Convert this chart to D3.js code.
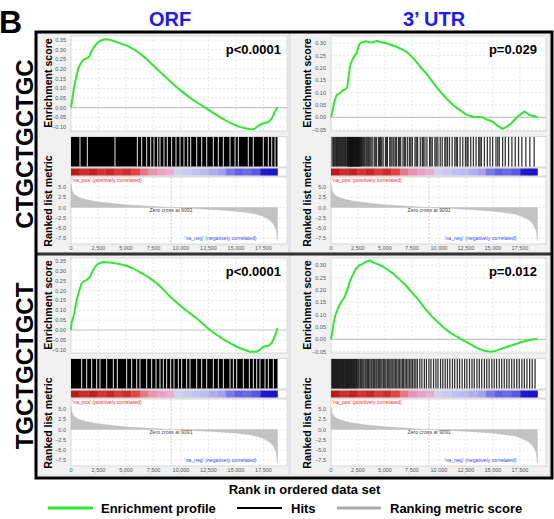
<!DOCTYPE html>
<html><head><meta charset="utf-8">
<script src="https://cdn.jsdelivr.net/npm/d3@7"></script>
<style>body{margin:0;background:#fff}svg{display:block}</style>
</head><body>
<script>
// ---------------- DATA ----------------
const columnTitles = ["ORF", "3\u2019 UTR"];
const rowLabels = ["CTGCTGCTGC", "TGCTGCTGCT"];
const pValues = [["p<0.0001", "p=0.029"], ["p<0.0001", "p=0.012"]];
const listSize = [18770, 19130];
const zeroCross = [9091, 9091];
const rankTicks = [0, 2500, 5000, 7500, 10000, 12500, 15000, 17500];
const esTicksOrf = [-0.10, -0.05, 0.00, 0.05, 0.10, 0.15, 0.20, 0.25, 0.30, 0.35];
const esTicksUtr = [-0.05, 0.00, 0.05, 0.10, 0.15, 0.20, 0.25, 0.30];
const metricTicks = [5.0, 2.5, 0.0, -2.5, -5.0, -7.5];
const legendItems = ["Enrichment profile", "Hits", "Ranking metric score"];
const axisTitle = "Rank in ordered data set";
const posLabel = "'na_pos' (positively correlated)";
const negLabel = "'na_neg' (negatively correlated)";

// enrichment profiles [rank, ES]
const esOrfTop = [[0,0.0],[80,0.03],[160,0.06],[260,0.10],[400,0.14],[520,0.17],[650,0.20],[800,0.22],[1000,0.24],[1200,0.25],[1400,0.255],[1550,0.258],[1700,0.27],[1850,0.29],[2000,0.305],[2200,0.322],[2400,0.335],[2650,0.345],[2900,0.351],[3150,0.354],[3400,0.352],[3700,0.348],[4000,0.342],[4400,0.334],[4800,0.326],[5300,0.315],[5800,0.299],[6200,0.283],[6800,0.255],[7400,0.222],[8000,0.19],[8700,0.153],[9300,0.121],[9900,0.092],[10500,0.065],[11100,0.04],[11700,0.018],[12300,-0.003],[12900,-0.025],[13500,-0.047],[14100,-0.067],[14750,-0.086],[15300,-0.099],[15950,-0.108],[16400,-0.112],[16700,-0.109],[16900,-0.100],[17150,-0.088],[17450,-0.082],[17700,-0.078],[18000,-0.072],[18250,-0.055],[18500,-0.025],[18770,0.002]];
const esUtrTop = [[0,0.0],[110,0.02],[212,0.043],[360,0.07],[526,0.09],[700,0.095],[830,0.097],[980,0.105],[1135,0.11],[1300,0.113],[1504,0.121],[1620,0.16],[1753,0.205],[1900,0.225],[2057,0.24],[2200,0.25],[2371,0.26],[2500,0.28],[2675,0.30],[2950,0.305],[3293,0.308],[3600,0.303],[3902,0.304],[4216,0.31],[4600,0.305],[5138,0.30],[5600,0.293],[6061,0.286],[6500,0.277],[6983,0.266],[7450,0.247],[7906,0.225],[8350,0.2],[8828,0.178],[9300,0.15],[9751,0.124],[10200,0.1],[10673,0.077],[11300,0.05],[11900,0.03],[12500,0.012],[13127,0.002],[13600,0.001],[14050,0.0],[14500,-0.01],[14972,-0.018],[15450,-0.035],[15895,-0.047],[16200,-0.04],[16513,-0.031],[16800,-0.02],[17130,-0.004],[17500,0.01],[17896,0.023],[18150,0.018],[18357,0.009],[18650,0.006],[18975,0.003],[19130,0.0]];
const esOrfBottom = [[0,0.0],[60,0.04],[230,0.068],[380,0.11],[520,0.152],[750,0.2],[970,0.237],[1200,0.248],[1420,0.254],[1730,0.27],[1950,0.298],[2180,0.32],[2400,0.333],[2640,0.34],[2940,0.345],[3400,0.343],[3850,0.34],[4300,0.336],[4760,0.33],[5200,0.322],[5670,0.312],[6100,0.298],[6570,0.284],[7200,0.262],[7790,0.237],[8400,0.205],[9000,0.169],[9600,0.14],[10210,0.11],[10800,0.085],[11430,0.059],[12000,0.03],[12630,0.0],[13240,-0.024],[13840,-0.047],[14450,-0.067],[15060,-0.085],[15650,-0.099],[16270,-0.11],[16880,-0.11],[17200,-0.098],[17480,-0.085],[17700,-0.082],[17940,-0.08],[18200,-0.068],[18390,-0.05],[18600,-0.02],[18770,0.01]];
const esUtrBottom = [[0,0.0],[120,0.03],[250,0.07],[420,0.1],[600,0.12],[800,0.14],[1000,0.155],[1250,0.17],[1500,0.2],[1750,0.235],[2000,0.26],[2300,0.285],[2600,0.3],[2900,0.305],[3250,0.315],[3600,0.32],[3900,0.312],[4300,0.305],[4800,0.295],[5300,0.28],[5800,0.265],[6300,0.245],[6900,0.22],[7500,0.19],[8100,0.16],[8700,0.125],[9300,0.095],[9900,0.07],[10500,0.045],[11100,0.025],[11700,0.01],[12300,-0.005],[12900,-0.02],[13500,-0.035],[14100,-0.045],[14700,-0.05],[15200,-0.048],[15700,-0.04],[16200,-0.032],[16700,-0.025],[17200,-0.018],[17700,-0.01],[18200,-0.005],[18700,0.0],[19130,0.0]];

// ranked list metric [rank, value]
const metricOrf = [[0,5.6],[40,5.0],[120,4.0],[250,3.3],[500,2.8],[800,2.4],[1300,2.0],[2000,1.6],[2800,1.3],[3800,0.95],[5000,0.65],[6500,0.4],[8000,0.17],[9091,0],[10500,-0.2],[12000,-0.38],[13500,-0.6],[15000,-0.9],[16000,-1.2],[16800,-1.6],[17500,-2.2],[18000,-3.0],[18400,-4.0],[18650,-5.6],[18770,-8.2]];
const metricUtr = [[0,5.6],[40,5.0],[120,4.0],[250,3.3],[500,2.8],[800,2.4],[1300,2.0],[2000,1.6],[2800,1.3],[3800,0.95],[5000,0.65],[6500,0.4],[8000,0.17],[9091,0],[10500,-0.2],[12000,-0.38],[13500,-0.6],[15000,-0.9],[16000,-1.2],[17000,-1.6],[17700,-2.2],[18300,-3.0],[18700,-4.0],[19000,-5.6],[19130,-8.2]];

// ORF hit bands are solid: ranks where the band shows white gaps
const gapsOrfTop = [818,1485,4000,6030,6425,6880,7245,7545,7880,8090,8455,8755,9150,9545,9910,10270,10610,10880,11425,11880,12335,12935,13390,13845,14455,14910,15210,16115,16570,17480,17935,18245,18545];
const gapsOrfBottom = [970,1424,1879,2333,2636,3242,3848,4212,5060,5515,5970,6272,6878,7333,7727,8090,8393,8696,9060,9363,9757,10060,10514,10817,11424,11878,12333,12939,13393,13848,14454,14757,15060,15666,16212,16575,16878,17180,17635,17938,18392];
// 3'UTR hits: individual ranks
const hitsUtrTop = [100,215,290,369,450,523,610,707,780,892,960,1076,1150,1261,1340,1414,1520,1560,1630,1660,1700,1740,1780,1820,1845,1870,1900,1940,1980,2020,2060,2090,2120,2180,2245,2270,2300,2350,2400,2429,2460,2500,2550,2614,2650,2700,2760,2829,2900,3014,3100,3229,3320,3413,3500,3598,3700,3813,3998,4100,4213,4397,4500,4582,4700,4828,5043,5150,5228,5443,5550,5658,5812,5950,6058,6242,6350,6458,6673,6800,6919,7103,7288,7400,7534,7780,7900,8026,8272,8456,8550,8702,8887,9133,9250,9379,9625,9750,9902,10117,10301,10547,10650,10793,10978,11224,11470,11600,11716,11962,12208,12454,12600,12700,12946,13192,13438,13684,13800,13930,14207,14483,14729,14975,15283,15450,15590,15898,16144,16451,16759,17066,17374,17681,18050,18419,18819];
const hitsUtrBottom = [80,140,210,260,330,390,450,520,580,640,700,770,830,900,960,1030,1090,1150,1220,1290,1350,1420,1480,1550,1610,1680,1740,1810,1880,1940,2010,2080,2150,2210,2290,2360,2430,2520,2600,2720,2830,2950,3040,3170,3260,3390,3480,3600,3720,3810,3940,4050,4170,4260,4390,4510,4620,4730,4870,4980,5090,5230,5350,5460,5580,5720,5840,5960,6090,6220,6340,6480,6610,6730,6870,7010,7140,7290,7420,7560,7710,7860,8010,8230,8420,8650,8840,9070,9260,9500,9720,9910,10150,10360,10580,10790,11010,11250,11460,11700,11910,12150,12380,12590,12830,13060,13270,13520,13740,13960,14210,14430,14650,14900,15120,15340,15590,15810,16050,16280,16500,16740,16970,17210,17440,17680,17910,18150,18400,18640,18900];

// colour-bar block shades (+ red, - blue) along the ranked list
const colorBarShades = [0.95,0.8,0.9,0.75,0.85,0.7,0.8,0.62,0.45,0.35,0.3,0.25,-0.12,-0.15,-0.18,-0.2,-0.25,-0.3,-0.45,-0.55,-0.5,-0.6,-0.95,-0.98];

// ---------------- LAYOUT ----------------
const W = 554, H = 519;
const svg = d3.select("body").append("svg").attr("width", W).attr("height", H);
const FONT = "'Liberation Sans', Arial, sans-serif";

const cols = [
  {x0: 71, xEnd: 277.5, x1: 287, bgX: 37, bgW: 252, labelX: 52, pRight: 281},
  {x0: 331, xEnd: 537.5, x1: 546, bgX: 290, bgW: 260, labelX: 311, pRight: 537}
];
const rowOffsets = [0, 222];

const panels = [
  {row:0, col:0, es: esOrfTop, esTicks: esTicksOrf, esDom:[0,0.35], esRange:[107.7,40], metric: metricOrf, gaps: gapsOrfTop},
  {row:0, col:1, es: esUtrTop, esTicks: esTicksUtr, esDom:[0,0.30], esRange:[117.3,43.3], metric: metricUtr, hits: hitsUtrTop},
  {row:1, col:0, es: esOrfBottom, esTicks: esTicksOrf, esDom:[0,0.35], esRange:[108,39], metric: metricOrf, gaps: gapsOrfBottom},
  {row:1, col:1, es: esUtrBottom, esTicks: esTicksUtr, esDom:[0,0.30], esRange:[117.3,43.3], metric: metricUtr, hits: hitsUtrBottom}
];

const shadeColor = d3.scaleLinear()
  .domain([-1, -0.5, -0.15, 0, 0.3, 0.6, 1])
  .range(["#1a0fc8", "#6a6ae6", "#c9c9f2", "#f3e6f0", "#e7a3c6", "#e04848", "#b31515"]);

panels.forEach(p => {
  const c = cols[p.col], oy = rowOffsets[p.row];
  const N = listSize[p.col];
  const g = svg.append("g").attr("transform", `translate(0,${oy})`);
  const x = d3.scaleLinear().domain([0, N]).range([c.x0, c.xEnd]);
  const yEs = d3.scaleLinear().domain(p.esDom).range(p.esRange);
  const yM = d3.scaleLinear().domain([0, 5]).range([207.5, 187]);

  g.append("rect").attr("x", c.bgX).attr("y", 33).attr("width", c.bgW).attr("height", 220)
    .attr("fill", "#f1f1f1").attr("stroke", "#d9d9d9").attr("stroke-width", 1);

  // ---- ES plot ----
  const esTop = 36, esBot = 131;
  g.append("rect").attr("x", c.x0).attr("y", esTop).attr("width", c.x1 - c.x0).attr("height", esBot - esTop)
    .attr("fill", "#fff").attr("stroke", "#d0d0d0").attr("stroke-width", 0.8);
  g.append("g").selectAll("line").data(rankTicks.slice(1)).join("line")
    .attr("x1", d => x(d)).attr("x2", d => x(d)).attr("y1", esTop).attr("y2", esBot)
    .attr("stroke", "#e2e2e2").attr("stroke-dasharray", "2,2").attr("stroke-width", 0.8);
  g.append("g").selectAll("line").data(p.esTicks.filter(t => t !== 0)).join("line")
    .attr("x1", c.x0).attr("x2", c.x1).attr("y1", d => yEs(d)).attr("y2", d => yEs(d))
    .attr("stroke", "#e2e2e2").attr("stroke-dasharray", "2,2").attr("stroke-width", 0.8);
  g.append("line").attr("x1", c.x0).attr("x2", c.x1).attr("y1", yEs(0)).attr("y2", yEs(0))
    .attr("stroke", "#c4c4c4").attr("stroke-width", 1.2);
  g.append("g").selectAll("text").data(p.esTicks).join("text")
    .attr("x", c.x0 - 5).attr("y", d => yEs(d) + 2).attr("text-anchor", "end")
    .attr("font-family", FONT).attr("font-size", 5.5).attr("fill", "#555")
    .text(d => d3.format(".2f")(d));
  g.append("path").datum(p.es)
    .attr("d", d3.line().x(d => x(d[0])).y(d => yEs(d[1])))
    .attr("fill", "none").attr("stroke", "#2fe82f").attr("stroke-width", 2).attr("stroke-linejoin", "round");
  g.append("text").attr("x", c.pRight).attr("y", 53.5).attr("text-anchor", "end")
    .attr("font-family", FONT).attr("font-weight", "bold").attr("font-size", 13).attr("fill", "#000")
    .text(pValues[p.row][p.col]);
  g.append("text").attr("transform", `translate(${c.labelX},83) rotate(-90)`).attr("text-anchor", "middle")
    .attr("font-family", FONT).attr("font-weight", "bold").attr("font-size", 10.6).attr("fill", "#000")
    .text("Enrichment score");

  // ---- hits ----
  const hTop = 136.5, hBot = 167;
  g.append("rect").attr("x", c.x0).attr("y", hTop).attr("width", c.x1 - c.x0).attr("height", hBot - hTop)
    .attr("fill", "#fff").attr("stroke", "#d0d0d0").attr("stroke-width", 0.8);
  if (p.gaps) {
    g.append("rect").attr("x", x(0)).attr("y", hTop + 0.5).attr("width", x(N) - x(0)).attr("height", hBot - hTop - 1)
      .attr("fill", "#000");
    g.append("g").selectAll("line").data(p.gaps).join("line")
      .attr("x1", d => x(d)).attr("x2", d => x(d)).attr("y1", hTop + 0.5).attr("y2", hBot - 0.5)
      .attr("stroke", "#e6e6e6").attr("stroke-width", 1);
  } else {
    g.append("g").selectAll("line").data(p.hits).join("line")
      .attr("x1", d => x(d)).attr("x2", d => x(d)).attr("y1", hTop + 0.5).attr("y2", hBot - 0.5)
      .attr("stroke", "#111").attr("stroke-opacity", 0.85).attr("stroke-width", 1.3);
  }

  // ---- colour bar ----
  const cbTop = 168, cbBot = 176;
  g.append("rect").attr("x", c.x0).attr("y", cbTop).attr("width", c.x1 - c.x0).attr("height", cbBot - cbTop)
    .attr("fill", "#fff").attr("stroke", "#d0d0d0").attr("stroke-width", 0.8);
  const nb = colorBarShades.length;
  g.append("g").selectAll("rect").data(colorBarShades).join("rect")
    .attr("x", (d, i) => x(N * i / nb)).attr("width", (d, i) => x(N * (i + 1) / nb) - x(N * i / nb) + 0.3)
    .attr("y", cbTop + 0.5).attr("height", cbBot - cbTop - 1).attr("fill", d => shadeColor(d));

  // ---- ranked list ----
  const rTop = 177, rBot = 244;
  g.append("rect").attr("x", c.x0).attr("y", rTop).attr("width", c.x1 - c.x0).attr("height", rBot - rTop)
    .attr("fill", "#fff").attr("stroke", "#d0d0d0").attr("stroke-width", 0.8);
  g.append("g").selectAll("line").data(rankTicks.slice(1)).join("line")
    .attr("x1", d => x(d)).attr("x2", d => x(d)).attr("y1", rTop).attr("y2", rBot)
    .attr("stroke", "#e2e2e2").attr("stroke-dasharray", "2,2").attr("stroke-width", 0.8);
  g.append("g").selectAll("line").data(metricTicks).join("line")
    .attr("x1", c.x0).attr("x2", c.x1).attr("y1", d => yM(d)).attr("y2", d => yM(d))
    .attr("stroke", "#e2e2e2").attr("stroke-dasharray", "2,2").attr("stroke-width", 0.8);
  g.append("path").datum(p.metric)
    .attr("d", d3.area().x(d => x(d[0])).y0(yM(0)).y1(d => yM(d[1])))
    .attr("fill", "#c2c2c2").attr("stroke", "#bdbdbd").attr("stroke-width", 0.4);
  g.append("line").attr("x1", x(zeroCross[p.col])).attr("x2", x(zeroCross[p.col])).attr("y1", rTop).attr("y2", rBot)
    .attr("stroke", "#bbb").attr("stroke-dasharray", "2,1.5").attr("stroke-width", 0.8);
  g.append("text").attr("x", x(zeroCross[p.col])).attr("y", 211.5).attr("text-anchor", "middle")
    .attr("font-family", FONT).attr("font-size", 5.2).attr("fill", "#444")
    .text("Zero cross at " + zeroCross[p.col]);
  g.append("text").attr("x", c.x0 + 1).attr("y", 181.5)
    .attr("font-family", FONT).attr("font-size", 5.2).attr("fill", "#ff2a2a").text(posLabel);
  g.append("text").attr("x", x(N) - 21).attr("y", 239.5).attr("text-anchor", "end")
    .attr("font-family", FONT).attr("font-size", 5.2).attr("fill", "#4848ff").text(negLabel);
  g.append("g").selectAll("text").data(metricTicks).join("text")
    .attr("x", c.x0 - 5).attr("y", d => yM(d) + 2).attr("text-anchor", "end")
    .attr("font-family", FONT).attr("font-size", 5.5).attr("fill", "#555")
    .text(d => d3.format(".1f")(d));
  g.append("g").selectAll("text").data(rankTicks).join("text")
    .attr("x", d => x(d)).attr("y", 249.5).attr("text-anchor", "middle")
    .attr("font-family", FONT).attr("font-size", 5.5).attr("fill", "#555")
    .text(d => d3.format(",")(d));
  g.append("text").attr("transform", `translate(${c.labelX},201) rotate(-90)`).attr("text-anchor", "middle")
    .attr("font-family", FONT).attr("font-weight", "bold").attr("font-size", 10.6).attr("fill", "#000")
    .text("Ranked list metric");
});

// ---- frame ----
svg.append("line").attr("x1", 36).attr("x2", 552).attr("y1", 254).attr("y2", 254)
  .attr("stroke", "#333").attr("stroke-width", 3);
svg.append("rect").attr("x", 36).attr("y", 32).attr("width", 516).attr("height", 446)
  .attr("fill", "none").attr("stroke", "#000").attr("stroke-width", 3);

// ---- titles ----
svg.append("text").attr("x", -1).attr("y", 33).attr("font-family", FONT).attr("font-weight", "bold")
  .attr("font-size", 32).text("B");
const titleX = [170, 434];
columnTitles.forEach((t, i) => {
  svg.append("text").attr("x", titleX[i]).attr("y", 26).attr("text-anchor", "middle")
    .attr("font-family", FONT).attr("font-weight", "bold").attr("font-size", 20).attr("fill", "#1a1aff").text(t);
});
const rowLabelY = [144, 366];
rowLabels.forEach((t, i) => {
  svg.append("text").attr("transform", `translate(33,${rowLabelY[i]}) rotate(-90)`).attr("text-anchor", "middle")
    .attr("font-family", FONT).attr("font-weight", "bold").attr("font-size", 24).attr("fill", "#000").text(t);
});
svg.append("text").attr("x", 304.5).attr("y", 494).attr("text-anchor", "middle")
  .attr("font-family", FONT).attr("font-weight", "bold").attr("font-size", 13).text(axisTitle);

// ---- legend ----
const legendLine = [[48, 93], [237, 282], [337, 381]];
const legendColor = ["#2fe82f", "#000", "#a9a9a9"];
const legendWidth = [3, 2, 3];
const legendTextX = [101, 291, 390];
legendItems.forEach((t, i) => {
  svg.append("line").attr("x1", legendLine[i][0]).attr("x2", legendLine[i][1]).attr("y1", 508).attr("y2", 508)
    .attr("stroke", legendColor[i]).attr("stroke-width", legendWidth[i]);
  svg.append("text").attr("x", legendTextX[i]).attr("y", 512.5).attr("font-family", FONT)
    .attr("font-weight", "bold").attr("font-size", 13).text(t);
});
</script>
</body></html>
